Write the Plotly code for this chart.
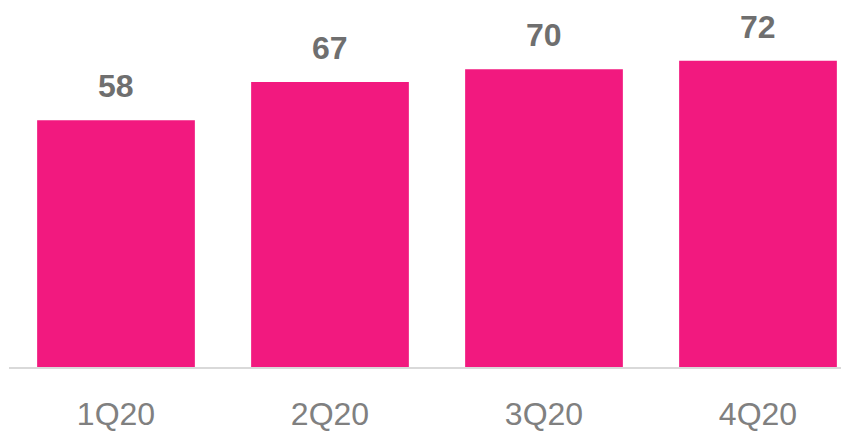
import plotly.graph_objects as go

quarters = ["1Q20", "2Q20", "3Q20", "4Q20"]
values = [58, 67, 70, 72]

BAR_COLOR = "#F2197F"
FONT = "Liberation Sans, Arial, sans-serif"

fig = go.Figure(
    go.Bar(
        x=quarters,
        y=values,
        marker=dict(color=BAR_COLOR, line=dict(width=0)),
        hoverinfo="skip",
    )
)

# value labels above each bar
for q, v in zip(quarters, values):
    fig.add_annotation(
        x=q, y=v, text=f"<b>{v}</b>",
        showarrow=False, yanchor="bottom", yshift=14,
        font=dict(family=FONT, size=32, color="#6F6F6F"),
    )

fig.update_layout(
    width=841, height=435,
    margin=dict(l=9, r=0, t=0, b=68),
    paper_bgcolor="white", plot_bgcolor="white",
    bargap=0.263,
    showlegend=False,
    xaxis=dict(
        type="category",
        range=[-0.5, -0.5 + 832 / 214],
        showline=True, linecolor="#D9D9D9", linewidth=1.5,
        showgrid=False, ticks="",
        tickfont=dict(family=FONT, size=32, color="#808080"),
        ticklabelstandoff=18,
        automargin=False,
    ),
    yaxis=dict(
        range=[0, 86.3],
        visible=False, showgrid=False, zeroline=False,
        automargin=False,
    ),
)

fig.write_html("out.html")
